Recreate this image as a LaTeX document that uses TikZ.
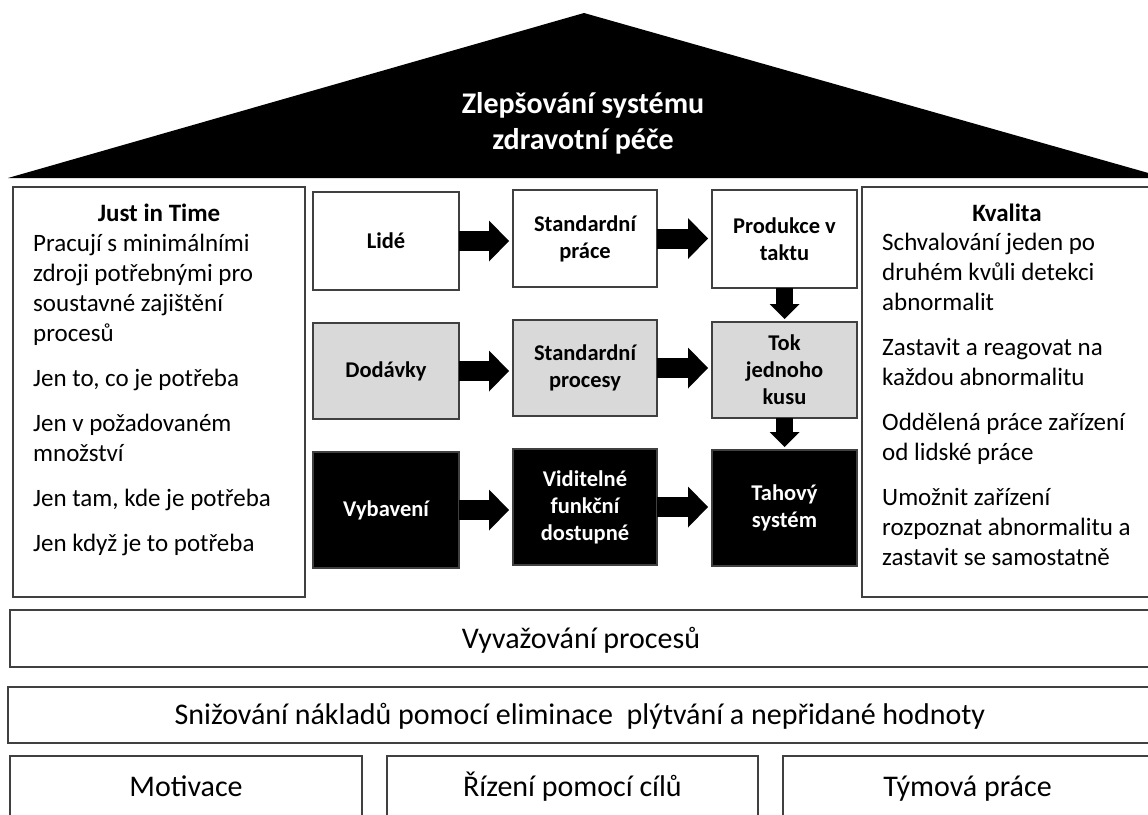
\documentclass[tikz,border=0pt]{standalone}
\usepackage{fontspec}
\setmainfont{Carlito}
\usetikzlibrary{arrows.meta}
\definecolor{edge}{HTML}{404040}
\definecolor{midgray}{HTML}{D9D9D9}

\begin{document}
\begin{tikzpicture}[x=1pt,y=-1pt,
  frame/.style={draw=edge,line width=1.5pt,inner sep=0pt,outer sep=0pt},
  stepbox/.style={draw=edge,line width=1.8pt,inner sep=0pt,outer sep=0pt,
    align=center,font=\fontsize{22.5}{27}\selectfont\bfseries},
  whitebox/.style={stepbox,fill=white,text=black},
  graybox/.style={stepbox,fill=midgray,text=black},
  blackbox/.style={stepbox,fill=black,text=white},
  headtext/.style={inner sep=0pt,anchor=base,font=\fontsize{25}{30}\selectfont\bfseries},
  % multi-line blocks are placed by the baseline of their last line
  sidetext/.style={inner sep=0pt,anchor=base west,align=left,font=\fontsize{25}{30}\selectfont},
  bartext/.style={font=\fontsize{30}{36}\selectfont,text height=24pt,text depth=5pt},
  harrow/.style={line width=20pt,shorten >=4pt,
    -{Triangle[width=41pt,length=20pt,line width=0pt]}},
  varrow/.style={line width=17pt,shorten >=3pt,
    -{Triangle[width=30pt,length=15pt,line width=0pt]}}
]
\useasboundingbox (0,0) rectangle (1148,814);

% roof
\fill[black] (8,178) -- (584,13) -- (1166,178) -- cycle;
\node[align=center,text=white,font=\fontsize{30}{36}\selectfont\bfseries] (roof) at (583,123)
  {Zlepšování systému\\zdravotní péče};

% side pillars
\node[frame,minimum width=292pt,minimum height=410pt] (jitbox) at (159,392) {};
\node[headtext] (jithead) at (159,221) {Just in Time};
\node[sidetext] (jittext) at (33,551) {Pracují s minimálními\\zdroji potřebnými pro\\soustavné zajištění\\procesů\\[15pt]%
Jen to, co je potřeba\\[15pt]Jen v požadovaném\\množství\\[15pt]Jen tam, kde je potřeba\\[15pt]Jen když je to potřeba};

\node[frame,minimum width=290pt,minimum height=410pt] (kvbox) at (1007,392) {};
\node[headtext] (kvhead) at (1007,221) {Kvalita};
\node[sidetext] (kvtext) at (882,565) {Schvalování jeden po\\druhém kvůli detekci\\abnormalit\\[15pt]%
Zastavit a reagovat na\\každou abnormalitu\\[15pt]Oddělená práce zařízení\\od lidské práce\\[15pt]%
Umožnit zařízení\\rozpoznat abnormalitu a\\zastavit se samostatně};

% central flow
\node[whitebox,minimum width=146pt,minimum height=98pt] (lide) at (386,241) {Lidé};
\node[whitebox,minimum width=144pt,minimum height=97pt] (stdprace) at (585,238.5) {Standardní\\práce};
\node[whitebox,minimum width=145pt,minimum height=98pt] (takt) at (784.5,239) {Produkce v\\taktu};
\node[graybox,minimum width=146pt,minimum height=96pt] (dodavky) at (386,371) {Dodávky};
\node[graybox,minimum width=144pt,minimum height=96pt] (stdproc) at (585,368) {Standardní\\procesy};
\node[graybox,minimum width=145pt,minimum height=96pt] (tok) at (784.5,370) {Tok\\jednoho\\kusu};
\node[blackbox,minimum width=146pt,minimum height=116pt] (vybaveni) at (386,510) {Vybavení};
\node[blackbox,minimum width=144pt,minimum height=116pt] (viditelne) at (585,507) {Viditelné\\funkční\\dostupné};
\node[blackbox,minimum width=145pt,minimum height=116pt] (tah) at (784.5,508) {Tahový\\systém};

\draw[harrow] (lide.east) -- (lide.east -| stdprace.west);
\draw[harrow] (stdprace.east) -- (stdprace.east -| takt.west);
\draw[harrow] (dodavky.east) -- (dodavky.east -| stdproc.west);
\draw[harrow] (stdproc.east) -- (stdproc.east -| tok.west);
\draw[harrow] (vybaveni.east) -- (vybaveni.east -| viditelne.west);
\draw[harrow] (viditelne.east) -- (viditelne.east -| tah.west);
\draw[varrow] (takt.south) -- (tok.north);
\draw[varrow] (tok.south) -- (tah.north);

% foundation
\node[frame,bartext,minimum width=1142pt,minimum height=57pt] (vyvaz) at (581,638.5) {Vyvažování procesů};
\node[frame,bartext,minimum width=1144pt,minimum height=56pt] (snizovani) at (580,715)
  {Snižování nákladů pomocí eliminace\ \ plýtvání a nepřidané hodnoty};
\node[frame,bartext,minimum width=352pt,minimum height=62pt] (motivace) at (186,787) {Motivace};
\node[frame,bartext,minimum width=371pt,minimum height=62pt] (cile) at (572.5,787) {Řízení pomocí cílů};
\node[frame,bartext,minimum width=369pt,minimum height=62pt] (tym) at (967.5,787) {Týmová práce};
\end{tikzpicture}
\end{document}
